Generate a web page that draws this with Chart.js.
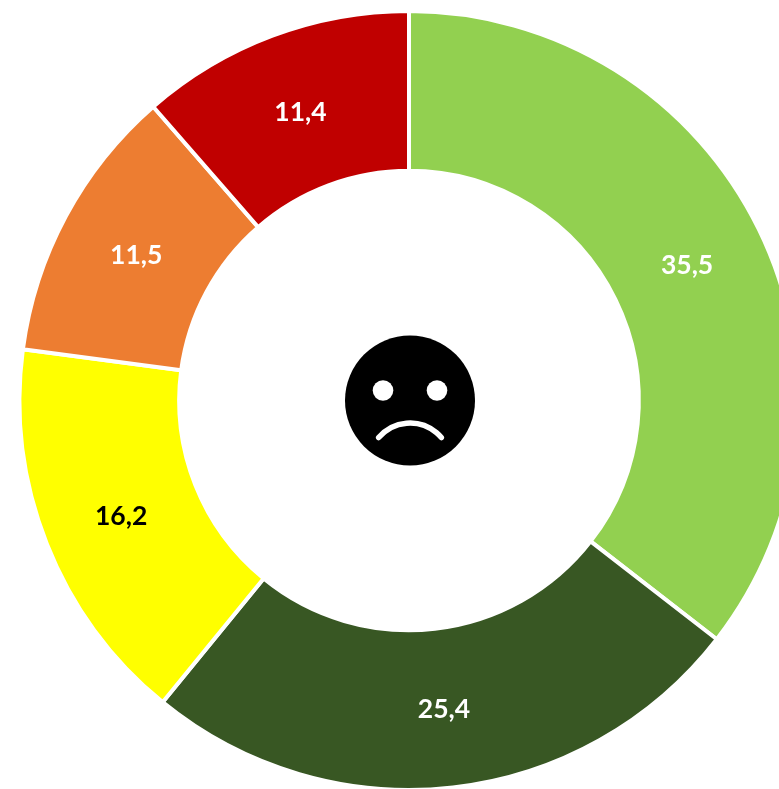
<!DOCTYPE html>
<html>
<head>
<meta charset="utf-8">
<style>
html,body{margin:0;padding:0;background:#fff;width:779px;height:789px;overflow:hidden}
#wrap{position:absolute;left:0;top:9px;width:818px;height:783px;overflow:visible}
canvas{display:block}
</style>
<script src="https://cdn.jsdelivr.net/npm/chart.js@4"></script>
</head>
<body>
<div id="wrap"><canvas id="c" width="818" height="783"></canvas></div>
<script>
const categories = ["A","B","C","D","E"];
const values = [35.5,25.4,16.2,11.5,11.4];
const valueLabels = ["35,5","25,4","16,2","11,5","11,4"];
const sliceColors = ["#92D050","#385723","#FFFF00","#ED7D31","#C00000"];
const labelColors = ["#FFFFFF","#FFFFFF","#000000","#FFFFFF","#FFFFFF"];

const sliceLabels = {
  id:"sliceLabels",
  afterDatasetsDraw(chart){
    const ctx = chart.ctx;
    const arcs = chart.getDatasetMeta(0).data;
    ctx.save();
    ctx.font = "bold 26.5px Lato";
    ctx.textAlign = "center";
    ctx.textBaseline = "middle";
    arcs.forEach((arc,i)=>{
      const p = arc.getCenterPoint();
      ctx.fillStyle = labelColors[i];
      ctx.fillText(valueLabels[i], p.x, p.y + 1.5);
    });
    ctx.restore();
  }
};
const sadFace = {
  id:"sadFace",
  afterDraw(chart){
    const ctx = chart.ctx;
    const a = chart.getDatasetMeta(0).data[0];
    const cx = a.x + 1, cy = a.y;
    ctx.save();
    ctx.fillStyle = "#000";
    ctx.beginPath(); ctx.arc(cx,cy,65,0,Math.PI*2); ctx.fill();
    ctx.fillStyle = "#fff";
    ctx.beginPath(); ctx.arc(cx-27,cy-10,10.3,0,Math.PI*2); ctx.fill();
    ctx.beginPath(); ctx.arc(cx+27,cy-10,10.3,0,Math.PI*2); ctx.fill();
    ctx.strokeStyle = "#fff"; ctx.lineWidth = 5.5; ctx.lineCap = "round";
    ctx.beginPath(); ctx.arc(cx,cy+63.5,41,Math.PI*1.5-0.87,Math.PI*1.5+0.87); ctx.stroke();
    ctx.restore();
  }
};
new Chart(document.getElementById("c"),{
  type:"doughnut",
  data:{labels:categories,datasets:[{data:values,backgroundColor:sliceColors,borderColor:"#FFFFFF",borderWidth:4,hoverOffset:0}]},
  options:{
    responsive:false,animation:false,cutout:"59%",
    layout:{padding:0},
    plugins:{legend:{display:false},tooltip:{enabled:false},title:{display:false}}
  },
  plugins:[sliceLabels,sadFace]
});
</script>
</body>
</html>
